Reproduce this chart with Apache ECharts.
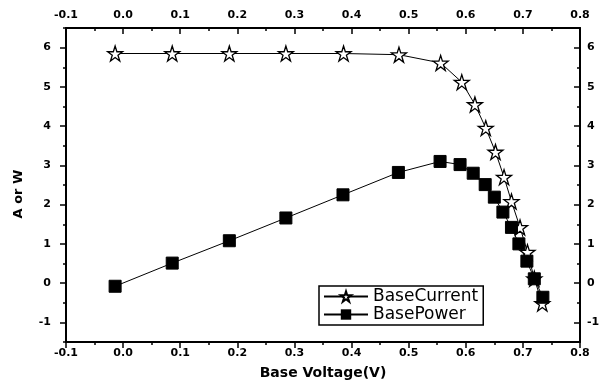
<!DOCTYPE html>
<html>
<head>
<meta charset="utf-8">
<script src="https://cdn.jsdelivr.net/npm/echarts@6/dist/echarts.min.js"></script>
<style>
  html, body { margin: 0; padding: 0; background: #fff; }
  #main { width: 599px; height: 385px; }
</style>
</head>
<body>
<div id="main"></div>
<script>
// values
var currentVolt = [-0.014, 0.086, 0.186, 0.285, 0.386, 0.483, 0.556, 0.593, 0.616, 0.635, 0.652, 0.667, 0.680, 0.695, 0.708, 0.720, 0.734];
var currentVal  = [5.85, 5.85, 5.85, 5.85, 5.85, 5.82, 5.61, 5.12, 4.55, 3.95, 3.34, 2.70, 2.08, 1.42, 0.79, 0.11, -0.52];
var powerVolt = [-0.014, 0.086, 0.186, 0.285, 0.385, 0.482, 0.555, 0.590, 0.613, 0.634, 0.650, 0.665, 0.680, 0.693, 0.707, 0.720, 0.735];
var powerVal  = [-0.08, 0.51, 1.08, 1.66, 2.25, 2.82, 3.10, 3.02, 2.80, 2.51, 2.19, 1.81, 1.42, 1.00, 0.56, 0.11, -0.36];
var yMajorTicks = [-1, 0, 1, 2, 3, 4, 5, 6];

function pairs(xs, ys){
    var out = [];
    for (var i = 0; i < xs.length; i++) out.push([xs[i], ys[i]]);
    return out;
}

// hollow five point star
function starPath(){
    var pts = [];
    for (var i = 0; i < 10; i++){
        var r = i % 2 ? 19 : 50;
        var a = Math.PI / 180 * (-90 + 36 * i);
        pts.push((50 + r * Math.cos(a)).toFixed(1) + ' ' + (50 + r * Math.sin(a)).toFixed(1));
    }
    return 'path://M' + pts.join(' L') + ' Z';
}

var font = 'DejaVu Sans';
var black = '#000';

function xAx(pos){
    var inside = pos === 'top';
    return {
        type: 'value', position: pos, min: -0.1, max: 0.8, interval: 0.1,
        axisLine: { show: true, onZero: false, lineStyle: { color: black, width: 2 } },
        axisTick: { show: true, inside: inside, length: 6, lineStyle: { color: black, width: 1.5 } },
        minorTick: { show: true, splitNumber: 2, length: 3, lineStyle: { color: black, width: 1.5 } },
        axisLabel: { margin: inside ? 7 : 6, color: black, fontFamily: font, fontSize: 11, fontWeight: 'bold',
            formatter: function(v){ return v.toFixed(1); } },
        splitLine: { show: false },
        minorSplitLine: { show: false }
    };
}

function yAx(pos, major){
    var inside = pos === 'right';
    var ax = {
        type: 'value', position: pos, min: -1.5, max: 6.5, interval: 0.5,
        axisLine: { show: !major, onZero: false, lineStyle: { color: black, width: 2 } },
        axisTick: { show: true, inside: inside, length: major ? 6 : 3, lineStyle: { color: black, width: 1.5 } },
        axisLabel: { show: !major, margin: inside ? 7 : 15, color: black, fontFamily: font, fontSize: 11, fontWeight: 'bold',
            formatter: function(v){ return Number.isInteger(v) ? String(v) : ''; } },
        splitLine: { show: false }
    };
    if (major) ax.axisTick.customValues = yMajorTicks;
    return ax;
}

var myChart = echarts.init(document.getElementById('main'));

var yLeft = yAx('left', false);
yLeft.name = 'A or W';
yLeft.nameLocation = 'middle';
yLeft.nameGap = 41;
yLeft.nameTextStyle = { color: black, fontFamily: font, fontWeight: 'bold', fontSize: 13, padding: [0, 18, 0, 0] };

var xBottom = xAx('bottom');
xBottom.name = 'Base Voltage(V)';
xBottom.nameLocation = 'middle';
xBottom.nameGap = 24;
xBottom.nameTextStyle = { color: black, fontFamily: font, fontWeight: 'bold', fontSize: 14 };

var option = {
    animation: false,
    backgroundColor: '#fff',
    grid: { left: 66, right: 19, top: 28, bottom: 43, outerBoundsMode: 'none' },
    legend: {
        left: 319, top: 286, orient: 'vertical',
        padding: [2, 5, 2, 4], itemGap: 1, itemWidth: 44, itemHeight: 13,
        borderColor: black, borderWidth: 1.5,
        textStyle: { color: black, fontFamily: font, fontSize: 17 },
        data: ['BaseCurrent', 'BasePower']
    },
    xAxis: [xBottom, xAx('top')],
    yAxis: [yLeft, yAx('left', true), yAx('right', false), yAx('right', true)],
    series: [
        {
            name: 'BaseCurrent',
            type: 'line',
            data: pairs(currentVolt, currentVal),
            symbol: starPath(),
            symbolSize: 15,
            lineStyle: { color: black, width: 1 },
            itemStyle: { color: '#fff', borderColor: black, borderWidth: 1.3 }
        },
        {
            name: 'BasePower',
            type: 'line',
            data: pairs(powerVolt, powerVal),
            symbol: 'rect',
            symbolSize: 12,
            lineStyle: { color: black, width: 1 },
            itemStyle: { color: black, borderColor: black }
        }
    ]
};

myChart.setOption(option);
</script>
</body>
</html>
